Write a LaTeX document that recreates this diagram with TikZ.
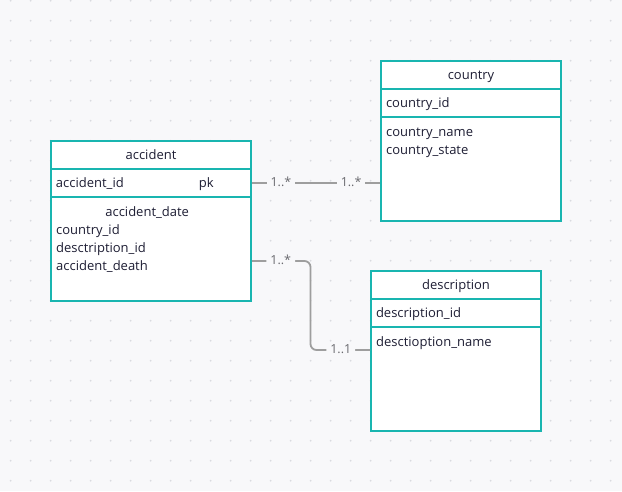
\documentclass[tikz,border=0pt]{standalone}
\usepackage{fontspec}
\setmainfont{Open Sans}
\usetikzlibrary{positioning}
\definecolor{tblline}{RGB}{25,181,176}
\definecolor{tbltext}{RGB}{30,30,52}
\definecolor{linkgray}{RGB}{158,158,158}
\definecolor{lblgray}{RGB}{105,105,110}
\definecolor{canvas}{RGB}{248,248,250}
\definecolor{griddot}{RGB}{218,219,224}

\begin{document}
\begin{tikzpicture}[x=1pt,y=-1pt,
    tabhead/.style={rectangle,draw=tblline,line width=2pt,fill=white,
		minimum height=28pt,inner sep=0pt,outer sep=0pt,anchor=north west,
		text height=12pt,text depth=3pt,
		text=tbltext,font=\fontsize{13}{18}\selectfont},
    tabkey/.style={tabhead,anchor=north,align=left,inner xsep=5pt},
    tabbody/.style={tabhead,anchor=north,minimum height=104pt},
% Field list style
    fields/.style={inner sep=0pt,anchor=base west,align=left,text width=185pt,
		text=tbltext,font=\fontsize{13}{18}\selectfont},
    link/.style={draw=linkgray,line width=1.8pt,shorten <=1pt,shorten >=1pt},
    lbl/.style={fill=canvas,inner xsep=4pt,inner ysep=1pt,text=lblgray,
		text height=9pt,text depth=2pt,font=\fontsize{12.5}{14}\selectfont}
    ]
%%% Canvas with dot grid
   \fill [canvas] (0,0) rectangle (622,491);
   \useasboundingbox (0,0) rectangle (622,491);
   \foreach \i in {0,...,30}
      \foreach \j in {0,...,24}
         \fill [griddot] (10.7+20*\i,0.7+20*\j) circle (1pt);

%%% Tables
   \node [tabhead, minimum width=200pt] (acct) at (51,141) {accident};
   \node [tabkey, text width=190pt] [below=0pt of acct] (acck)
      {\makebox[143pt][l]{accident\_id}pk};
   \node [tabbody, minimum width=200pt] [below=0pt of acck] (accb) {};
   \node [fields] (accf) at ([xshift=5pt,yshift=-19.5pt]accb.north west)
      {\makebox[182pt][c]{accident\_date}\\ country\_id\\ desctription\_id\\ accident\_death};

   \node [tabhead, minimum width=180pt] (cntt) at (381,61) {country};
   \node [tabkey, text width=170pt] [below=0pt of cntt] (cntk) {country\_id};
   \node [tabbody, minimum width=180pt] [below=0pt of cntk] (cntb) {};
   \node [fields] (cntf) at ([xshift=5pt,yshift=-19.5pt]cntb.north west)
      {country\_name\\ country\_state};

   \node [tabhead, minimum width=170pt] (dsct) at (371,271) {description};
   \node [tabkey, text width=160pt] [below=0pt of dsct] (dsck) {description\_id};
   \node [tabbody, minimum width=170pt] [below=0pt of dsck] (dscb) {};
   \node [fields] (dscf) at ([xshift=5pt,yshift=-19.5pt]dscb.north west)
      {desctioption\_name};

%%% Relations
   \draw [link] (acck.east) -- (acck.east -| cntb.west)
      node [lbl,pos=.23] {1..*} node [lbl,pos=.77] {1..*};

   \coordinate (acc2) at ([yshift=-12pt]accb.east);
   \coordinate (dsc2) at ([yshift=29pt]dscb.west);
   \draw [link,rounded corners=6pt] (acc2) -- node [lbl] {1..*} ++(59.5,0)
      |- node [lbl,pos=.75] {1..1} (dsc2);
\end{tikzpicture}
\end{document}
